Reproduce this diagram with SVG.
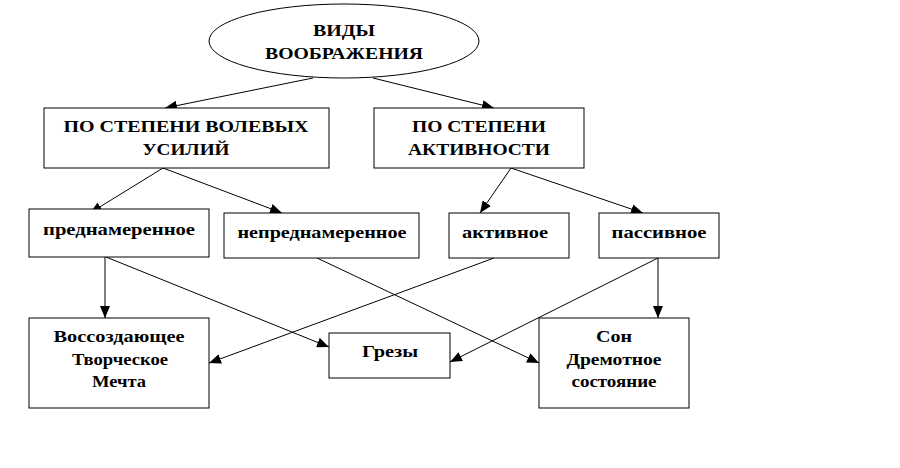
<svg xmlns="http://www.w3.org/2000/svg" width="900" height="468" viewBox="0 0 900 468">
<defs>
<marker id="ah" markerUnits="userSpaceOnUse" markerWidth="12" markerHeight="10" viewBox="0 0 12 10" refX="12" refY="5" orient="auto">
<path d="M0,0 L12,5 L0,10 z" fill="#000"/>
</marker>
<style>
.b{fill:#fff;stroke:#000;stroke-width:1}
.t{font-family:'Liberation Serif','Times New Roman',serif;font-weight:bold;font-size:16px;fill:#000;text-anchor:middle}
.c line{stroke:#000;stroke-width:1}
.c .a{marker-end:url(#ah)}
</style>
</defs>
<rect width="900" height="468" fill="#fff"/>
<g class="c" id="connectors">
<line class="a" x1="313" y1="78" x2="165" y2="108"/>
<line class="a" x1="373" y1="78" x2="494" y2="108"/>
<line class="a" x1="163" y1="168" x2="90" y2="213"/>
<line class="a" x1="163" y1="168" x2="282" y2="213"/>
<line class="a" x1="511" y1="168" x2="480" y2="213"/>
<line class="a" x1="511" y1="168" x2="643" y2="213"/>
<line class="a" x1="105" y1="257" x2="105" y2="318"/>
<line class="a" x1="106" y1="257" x2="329" y2="347"/>
<line class="a" x1="317" y1="258" x2="539" y2="363"/>
<line class="a" x1="494" y1="258" x2="209" y2="363"/>
<line class="a" x1="658" y1="258" x2="658" y2="318"/>
<line class="a" x1="658" y1="258" x2="450" y2="362"/>
</g>
<g id="n_root">
<ellipse class="b" cx="344" cy="41" rx="135" ry="37" stroke="#444"/>
<text class="t" x="344" y="36" textLength="62" lengthAdjust="spacingAndGlyphs">ВИДЫ</text>
<text class="t" x="344" y="59" textLength="158" lengthAdjust="spacingAndGlyphs">ВООБРАЖЕНИЯ</text>
</g>
<g id="n_volevye">
<rect class="b" x="44" y="108" width="285" height="60"/>
<text class="t" x="186" y="132" textLength="245" lengthAdjust="spacingAndGlyphs">ПО СТЕПЕНИ  ВОЛЕВЫХ</text>
<text class="t" x="186" y="155" textLength="87" lengthAdjust="spacingAndGlyphs">УСИЛИЙ</text>
</g>
<g id="n_aktivnost">
<rect class="b" x="374" y="108" width="210" height="60"/>
<text class="t" x="479" y="132" textLength="134" lengthAdjust="spacingAndGlyphs">ПО СТЕПЕНИ</text>
<text class="t" x="479" y="155" textLength="142" lengthAdjust="spacingAndGlyphs">АКТИВНОСТИ</text>
</g>
<g id="n_prednam">
<rect class="b" x="29" y="209" width="180" height="48"/>
<text class="t" x="119" y="235" textLength="152" lengthAdjust="spacingAndGlyphs">преднамеренное</text>
</g>
<g id="n_neprednam">
<rect class="b" x="224" y="213" width="195" height="45"/>
<text class="t" x="322" y="238" textLength="169" lengthAdjust="spacingAndGlyphs">непреднамеренное</text>
</g>
<g id="n_aktivnoe">
<rect class="b" x="449" y="213" width="120" height="45"/>
<text class="t" x="505" y="238" textLength="86" lengthAdjust="spacingAndGlyphs">активное</text>
</g>
<g id="n_passivnoe">
<rect class="b" x="599" y="213" width="120" height="45"/>
<text class="t" x="659" y="238" textLength="95" lengthAdjust="spacingAndGlyphs">пассивное</text>
</g>
<g id="n_vossozd">
<rect class="b" x="29" y="318" width="180" height="90"/>
<text class="t" x="119" y="342" textLength="131" lengthAdjust="spacingAndGlyphs">Воссоздающее</text>
<text class="t" x="120" y="365" textLength="96" lengthAdjust="spacingAndGlyphs">Творческое</text>
<text class="t" x="119" y="387" textLength="54" lengthAdjust="spacingAndGlyphs">Мечта</text>
</g>
<g id="n_grezy">
<rect class="b" x="329" y="333" width="121" height="45"/>
<text class="t" x="390" y="357" textLength="56" lengthAdjust="spacingAndGlyphs">Грезы</text>
</g>
<g id="n_son">
<rect class="b" x="539" y="318" width="150" height="90"/>
<text class="t" x="614" y="342" textLength="36" lengthAdjust="spacingAndGlyphs">Сон</text>
<text class="t" x="614" y="365" textLength="95" lengthAdjust="spacingAndGlyphs">Дремотное</text>
<text class="t" x="614" y="387" textLength="85" lengthAdjust="spacingAndGlyphs">состояние</text>
</g>
</svg>
